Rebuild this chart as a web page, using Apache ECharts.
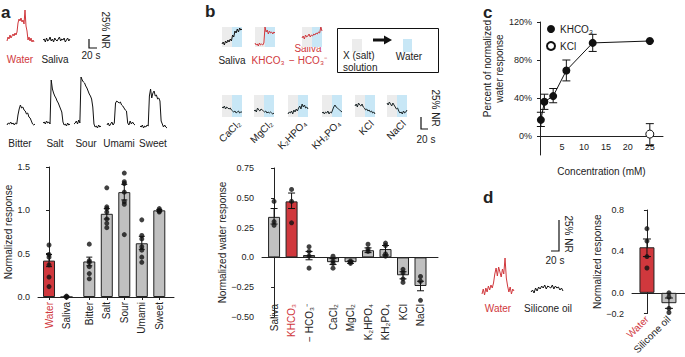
<!DOCTYPE html>
<html>
<head>
<meta charset="utf-8">
<script src="https://cdn.jsdelivr.net/npm/echarts@6/dist/echarts.min.js"></script>
<style>
html,body{margin:0;padding:0;background:#fff}
#main{width:685px;height:357px}
</style>
</head>
<body>
<div id="main"></div>
<script>
// ---- panel a, example traces (height above the trace floor) ----
var aWaterTrace  = [4, 8, 6, 10, 7, 9, 11, 9, 12, 10, 13, 22, 26, 24, 27, 23, 25, 21, 35, 19, 14, 5, 8, 4, 7, 3, 5, 3];
var aSalivaTrace = [5, 6, 3, 7, 4, 5, 8, 4, 6, 3, 7, 5, 4, 6, 8, 4, 6, 5, 7, 3, 5, 7, 4, 6];
var aBitterTrace = [4, 6, 5, 7, 5, 6, 4, 6, 5, 14, 20, 24, 21, 22, 19, 18, 15, 16, 12, 11, 8, 5, 4, 5];
var aSaltTrace   = [6, 7, 5, 8, 6, 7, 5, 49, 40, 36, 33, 31, 28, 26, 23, 20, 17, 7, 4, 5, 3, 6, 4, 5];
var aSourTrace   = [5, 6, 8, 5, 9, 6, 52, 49, 47, 46, 43, 41, 38, 35, 33, 30, 22, 5, 2, 3, 1, 4, 2, 3];
var aUmamiTrace  = [4, 6, 3, 5, 7, 4, 6, 26, 28, 27, 26, 27, 24, 23, 21, 19, 18, 6, 4, 8, 5, 7, 5, 4];
var aSweetTrace  = [3, 2, 4, 1, 3, 2, 4, 3, 33, 40, 31, 36, 38, 33, 34, 30, 31, 28, 8, 5, 2, 4, 2, 1];

// ---- panel a, bar chart ----
var aNames = ['Water', 'Saliva', 'Bitter', 'Salt', 'Sour', 'Umami', 'Sweet'];
var aMean  = [0.42, 0.0, 0.41, 0.96, 1.21, 0.62, 1.0];
var aLo    = [0.35, 0.0, 0.36, 0.90, 1.12, 0.55, 0.99];
var aHi    = [0.49, 0.01, 0.46, 1.02, 1.30, 0.70, 1.01];
var aDots  = [
  [0.60, 0.49, 0.46, 0.37, 0.23, 0.12],
  [0.01, 0.0, 0.0],
  [0.61, 0.42, 0.40, 0.35, 0.27, 0.21],
  [1.26, 1.04, 1.02, 0.98, 0.90, 0.85, 0.80],
  [1.43, 1.33, 1.31, 1.21, 1.10, 1.07, 0.72],
  [0.89, 0.71, 0.67, 0.58, 0.54, 0.46, 0.40],
  [1.02, 1.0, 0.99, 0.98]
];

// ---- panel b, traces (salt solution then water) ----
var bSalivaTrace   = [3, 5, 2, 6, 4, 7, 5, 8, 6, 12, 10, 16, 14, 18, 15, 19, 17, 18];
var bKhco3Trace    = [4, 2, 3, 1, 4, 2, 3, 2, 4, 20, 15, 17, 13, 16, 14, 15, 13, 15, 14];
var bSalMinusTrace = [9, 11, 8, 12, 10, 11, 13, 10, 12, 11, 13, 12, 14, 13, 15, 14, 20, 16];
var bCaCl2Trace    = [10, 9, 11, 8, 10, 9, 8, 9, 7, 6, 5, 6, 4, 5, 6, 4, 5, 5];
var bMgCl2Trace    = [6, 7, 5, 9, 7, 6, 8, 7, 6, 5, 6, 4, 5, 4, 5, 4, 3, 4];
var bK2hpo4Trace   = [3, 5, 4, 6, 3, 7, 5, 8, 6, 9, 11, 8, 13, 10, 12, 9, 10, 8];
var bKh2po4Trace   = [4, 5, 3, 5, 4, 6, 3, 5, 4, 7, 10, 12, 10, 9, 8, 7, 6, 5];
var bKclTrace      = [11, 13, 10, 14, 12, 11, 13, 10, 9, 7, 8, 6, 7, 5, 6, 4, 5, 3];
var bNaclTrace     = [14, 12, 15, 13, 11, 14, 12, 10, 8, 9, 6, 4, 5, 3, 6, 4, 5, 7];
var bTraceNames    = ['CaCl₂', 'MgCl₂', 'K₂HPO₄', 'KH₂PO₄', 'KCl', 'NaCl'];

// ---- panel b, bar chart ----
var bNames = ['Saliva', 'KHCO₃', '− HCO₃⁻', 'CaCl₂', 'MgCl₂', 'K₂HPO₄', 'KH₂PO₄', 'KCl', 'NaCl'];
var bMean  = [0.34, 0.47, 0.02, -0.04, -0.04, 0.06, 0.07, -0.15, -0.24];
var bLo    = [0.28, 0.41, -0.02, -0.06, -0.05, 0.04, 0.02, -0.18, -0.28];
var bHi    = [0.41, 0.54, 0.05, -0.01, -0.03, 0.08, 0.10, -0.12, -0.20];
var bDots  = [
  [0.47, 0.30, 0.27],
  [0.57, 0.47, 0.29],
  [0.09, 0.05, 0.01, -0.09],
  [0.01, -0.03, -0.05, -0.09],
  [-0.03, -0.04, -0.05],
  [0.11, 0.07, 0.05],
  [0.12, 0.10, 0.03, 0.01],
  [-0.10, -0.13, -0.18, -0.21],
  [-0.16, -0.20, -0.36]
];

// ---- panel c, dose response ----
var cConc     = [0.2, 1, 3, 6, 12, 25];
var cKhco3    = [17, 36, 42, 69, 98, 100];
var cKhco3Lo  = [10, 28, 35, 58, 89, 100];
var cKhco3Hi  = [25, 44, 50, 80, 107, 100];
var cKclConc  = [25];
var cKcl      = [2];
var cKclLo    = [-10];
var cKclHi    = [13];

// ---- panel d ----
var dWaterTrace    = [4, 9, 3, 10, 6, 12, 8, 13, 10, 15, 24, 30, 22, 31, 26, 21, 29, 24, 40, 20, 12, 6, 11, 4, 9, 7];
var dSiliconeTrace = [6, 8, 5, 10, 7, 11, 9, 12, 10, 13, 9, 12, 11, 10, 13, 9, 12, 10, 11, 8, 10, 7];
var dNames = ['Water', 'Silicone oil'];
var dMean  = [0.44, -0.10];
var dLo    = [0.35, -0.15];
var dHi    = [0.52, -0.05];
var dDots  = [[0.62, 0.50, 0.35, 0.24], [0.0, -0.04, -0.15, -0.19]];

var RED = '#d0383d', GRAY = '#c0c0c0', INK = '#222';
var GRAYBG = '#ececec', BLUEBG = '#c8e7f6';
var FONT = '"Liberation Sans", Arial, sans-serif';

var grids = [], xAxes = [], yAxes = [], series = [];

function addGrid(box) {
  grids.push({left: box[0], top: box[1], width: box[2], height: box[3]});
  return grids.length - 1;
}
function addX(o) { xAxes.push(o); return xAxes.length - 1; }
function addY(o) { yAxes.push(o); return yAxes.length - 1; }

function addTrace(box, vals, color, shade) {
  var gi = addGrid(box);
  var xi = addX({gridIndex: gi, type: 'value', min: 0, max: vals.length - 1, show: false});
  var yi = addY({gridIndex: gi, type: 'value', min: 0, max: box[3], show: false});
  var s = {
    type: 'line', xAxisIndex: xi, yAxisIndex: yi, symbol: 'none', silent: true, clip: false,
    lineStyle: {color: color, width: 1},
    data: vals.map(function (v, i) { return [i, v]; })
  };
  if (shade) {
    var mid = (vals.length - 1) / 2;
    s.markArea = {silent: true, data: [
      [{xAxis: 0, itemStyle: {color: GRAYBG}}, {xAxis: mid}],
      [{xAxis: mid, itemStyle: {color: BLUEBG}}, {xAxis: vals.length - 1}]
    ]};
  }
  series.push(s);
}

function errRender(cap) {
  return function (params, api) {
    var x = api.value(0);
    var p1 = api.coord([x, api.value(1)]), p2 = api.coord([x, api.value(2)]);
    var h = cap / 2, st = {stroke: '#111', lineWidth: 1};
    return {type: 'group', children: [
      {type: 'line', shape: {x1: p1[0], y1: p1[1], x2: p2[0], y2: p2[1]}, style: st},
      {type: 'line', shape: {x1: p1[0] - h, y1: p1[1], x2: p1[0] + h, y2: p1[1]}, style: st},
      {type: 'line', shape: {x1: p2[0] - h, y1: p2[1], x2: p2[0] + h, y2: p2[1]}, style: st}
    ]};
  };
}

function labelAt(pos, names, redIdx) {
  return function (v) {
    var best = 0;
    for (var i = 1; i < pos.length; i++) {
      if (Math.abs(pos[i] - v) < Math.abs(pos[best] - v)) best = i;
    }
    return redIdx.indexOf(best) >= 0 ? '{r|' + names[best] + '}' : names[best];
  };
}

function barSeries(xi, yi, pos, mean, lo, hi, dots, redIdx, width, cap) {
  series.push({
    type: 'bar', xAxisIndex: xi, yAxisIndex: yi, barWidth: width, z: 2,
    itemStyle: {borderColor: INK, borderWidth: 1},
    data: pos.map(function (p, i) {
      return {value: [p, mean[i]], itemStyle: {color: redIdx.indexOf(i) >= 0 ? RED : GRAY}};
    })
  });
  series.push({
    type: 'custom', xAxisIndex: xi, yAxisIndex: yi, z: 3, renderItem: errRender(cap),
    encode: {x: 0, y: [1, 2]},
    data: pos.map(function (p, i) { return [p, lo[i], hi[i]]; })
  });
  var pts = [];
  dots.forEach(function (list, i) { list.forEach(function (v) { pts.push([pos[i], v]); }); });
  series.push({
    type: 'scatter', xAxisIndex: xi, yAxisIndex: yi, z: 4, symbolSize: 5,
    itemStyle: {color: '#111'}, data: pts
  });
}

var axisBase = {
  axisLine: {show: true, lineStyle: {color: INK, width: 1}},
  splitLine: {show: false}
};
function ax(o) { return Object.assign({}, axisBase, o); }
function signed(digits) {
  return function (v) {
    if (Math.abs(v) < 1e-9) return '0.0';
    return (v < 0 ? '−' : '') + Math.abs(v).toFixed(digits);
  };
}

// ---- panel a traces ----
addTrace([7, 5, 27, 40], aWaterTrace, RED);
addTrace([43, 5, 27, 40], aSalivaTrace, '#111');
addTrace([7, 75, 28, 54], aBitterTrace, '#111');
addTrace([43, 75, 27, 54], aSaltTrace, '#111');
addTrace([74, 75, 27, 54], aSourTrace, '#111');
addTrace([107, 75, 28, 54], aUmamiTrace, '#111');
addTrace([140, 75, 27, 54], aSweetTrace, '#111');

// ---- panel a bars ----
var aPos = aNames.map(function (n, i) { return i + (i >= 2 ? 0.3 : 0); });
var gA = addGrid([38, 167, 136, 130]);
var xA = addX(ax({gridIndex: gA, type: 'value', min: -0.63, max: 7.14,
  axisTick: {show: true, customValues: aPos, length: 3, lineStyle: {color: INK}},
  axisLabel: {customValues: aPos, rotate: 90, margin: 5, fontSize: 10, color: INK,
    formatter: labelAt(aPos, aNames, [0]), rich: {r: {color: RED, fontSize: 10}}}}));
var yA = addY(ax({gridIndex: gA, type: 'value', min: 0, max: 1.5, interval: 0.5,
  axisTick: {show: true, length: 3, lineStyle: {color: INK}},
  axisLabel: {fontSize: 9, color: INK, formatter: function (v) { return v.toFixed(1); }},
  name: 'Normalized response', nameLocation: 'middle', nameGap: 24,
  nameTextStyle: {fontSize: 10, color: INK}}));
barSeries(xA, yA, aPos, aMean, aLo, aHi, aDots, [0], 12, 6);

// ---- panel b traces ----
addTrace([222, 27, 20, 20], bSalivaTrace, '#111', true);
addTrace([255, 27, 20, 20], bKhco3Trace, RED, true);
addTrace([302, 27, 20, 20], bSalMinusTrace, RED, true);
var bRow2 = [bCaCl2Trace, bMgCl2Trace, bK2hpo4Trace, bKh2po4Trace, bKclTrace, bNaclTrace];
var bRow2Left = [222, 254, 288, 322, 355, 387];
bRow2.forEach(function (t, i) { addTrace([bRow2Left[i], 95, 20, 22], t, '#1c2628', true); });

// ---- panel b bars ----
var bPos = bNames.map(function (n, i) { return i + (i >= 3 ? 0.37 : 0); });
var gB = addGrid([262, 168, 176, 149]);
var xB = addX(ax({gridIndex: gB, type: 'value', min: -0.69, max: 9.37, position: 'top',
  axisLine: {show: true, onZero: true, lineStyle: {color: INK}},
  axisTick: {show: false}, axisLabel: {show: false}}));
addX({gridIndex: gB, type: 'value', min: -0.69, max: 9.37, position: 'bottom', offset: -14,
  axisLine: {show: false, onZero: false}, axisTick: {show: false}, splitLine: {show: false},
  axisLabel: {customValues: bPos, rotate: 90, margin: 1, fontSize: 10, color: INK,
    formatter: labelAt(bPos, bNames, [1]), rich: {r: {color: RED, fontSize: 10}}}});
var yB = addY(ax({gridIndex: gB, type: 'value', min: -0.5, max: 0.75, interval: 0.25,
  axisTick: {show: true, length: 3, lineStyle: {color: INK}},
  axisLabel: {fontSize: 9, color: INK, formatter: signed(2)},
  name: 'Normalized water response', nameLocation: 'middle', nameGap: 34,
  nameTextStyle: {fontSize: 10, color: INK}}));
barSeries(xB, yB, bPos, bMean, bLo, bHi, bDots, [1], 12, 7);

// ---- panel c ----
var gC = addGrid([540, 22, 123, 133]);
var xC = addX(ax({gridIndex: gC, type: 'value', min: 0, max: 28, position: 'top',
  axisLine: {show: true, onZero: true, lineStyle: {color: INK}},
  axisTick: {show: false}, axisLabel: {show: false}}));
addX({gridIndex: gC, type: 'value', min: 0, max: 28, position: 'bottom', offset: -19,
  axisLine: {show: false, onZero: false}, axisTick: {show: false}, splitLine: {show: false},
  axisLabel: {customValues: [5, 10, 15, 20, 25], fontSize: 9, color: INK, margin: 6},
  name: 'Concentration (mM)', nameLocation: 'middle', nameGap: 30,
  nameTextStyle: {fontSize: 10, color: INK}});
var yC = addY(ax({gridIndex: gC, type: 'value', min: -20, max: 120,
  axisTick: {show: true, customValues: [0, 40, 80, 120], length: 3, lineStyle: {color: INK}},
  axisLabel: {customValues: [0, 40, 80, 120], fontSize: 9, color: INK,
    formatter: function (v) { return v + '%'; }},
  name: 'Percent of normalized\nwater response', nameLocation: 'middle', nameGap: 35,
  nameTextStyle: {fontSize: 10, color: INK, lineHeight: 12, padding: [0, 0, 0, 40]}}));
series.push({
  type: 'custom', xAxisIndex: xC, yAxisIndex: yC, z: 3, renderItem: errRender(8),
  encode: {x: 0, y: [1, 2]},
  data: cConc.map(function (c, i) { return [c, cKhco3Lo[i], cKhco3Hi[i]]; })
    .concat(cKclConc.map(function (c, i) { return [c, cKclLo[i], cKclHi[i]]; }))
});
series.push({
  name: 'KHCO₃', type: 'line', xAxisIndex: xC, yAxisIndex: yC, z: 4,
  symbol: 'circle', symbolSize: 8, itemStyle: {color: '#111'},
  lineStyle: {color: '#111', width: 1},
  data: cConc.map(function (c, i) { return [c, cKhco3[i]]; })
});
series.push({
  name: 'KCl', type: 'line', xAxisIndex: xC, yAxisIndex: yC, z: 5,
  symbol: 'circle', symbolSize: 8,
  itemStyle: {color: '#fff', borderColor: '#111', borderWidth: 1},
  lineStyle: {width: 0},
  data: cKclConc.map(function (c, i) { return [c, cKcl[i]]; })
});

// ---- panel d ----
addTrace([482, 255, 32, 43], dWaterTrace, RED);
addTrace([531, 255, 32, 43], dSiliconeTrace, '#111');
var dPos = dNames.map(function (n, i) { return i; });
var gD = addGrid([632, 210, 53, 106]);
var xD = addX(ax({gridIndex: gD, type: 'value', min: -0.68, max: 1.73, position: 'top',
  axisLine: {show: true, onZero: true, lineStyle: {color: INK}},
  axisTick: {show: false}, axisLabel: {show: false}}));
addX({gridIndex: gD, type: 'value', min: -0.68, max: 1.73, position: 'bottom',
  axisLine: {show: false, onZero: false}, axisTick: {show: false}, splitLine: {show: false},
  axisLabel: {customValues: dPos, rotate: 45, margin: 4, fontSize: 10, color: INK,
    formatter: labelAt(dPos, dNames, [0]), rich: {r: {color: RED, fontSize: 10}}}});
var yD = addY(ax({gridIndex: gD, type: 'value', min: -0.2, max: 0.8,
  axisTick: {show: true, customValues: [-0.2, 0, 0.4, 0.8], length: 3, lineStyle: {color: INK}},
  axisLabel: {customValues: [-0.2, 0, 0.4, 0.8], fontSize: 9, color: INK, formatter: signed(1)},
  name: 'Normalized response', nameLocation: 'middle', nameGap: 26,
  nameTextStyle: {fontSize: 10, color: INK}}));
barSeries(xD, yD, dPos, dMean, dLo, dHi, dDots, [0], 15, 8);

// ---- annotations ----
function txt(x, y, s, o) {
  o = o || {};
  return {type: 'text', x: x, y: y, rotation: o.rot || 0, silent: true,
    style: {text: s, fill: o.color || INK, font: (o.font || '10px') + ' ' + FONT,
      textAlign: o.align || 'center', textVerticalAlign: o.va || 'middle'}};
}
function bar(points) {
  return {type: 'polyline', silent: true, shape: {points: points},
    style: {stroke: '#111', lineWidth: 1.2, fill: null}};
}
var graphics = [
  txt(1, 4, 'a', {font: 'bold 17px', align: 'left', va: 'top'}),
  txt(205, 3, 'b', {font: 'bold 17px', align: 'left', va: 'top'}),
  txt(483, 4, 'c', {font: 'bold 17px', align: 'left', va: 'top'}),
  txt(483, 189, 'd', {font: 'bold 17px', align: 'left', va: 'top'}),
  // panel a
  txt(20, 59, 'Water', {color: RED}),
  txt(55, 59, 'Saliva'),
  txt(20, 143, 'Bitter'), txt(55, 143, 'Salt'), txt(86, 143, 'Sour'),
  txt(119, 143, 'Umami'), txt(153, 143, 'Sweet'),
  bar([[89, 39], [89, 48], [97, 48]]),
  txt(91, 55, '20 s'),
  txt(105, 30, '25% NR', {rot: -Math.PI / 2}),
  // panel b
  txt(232, 60, 'Saliva'),
  txt(268, 60, 'KHCO₃', {color: RED}),
  txt(308, 48, 'Saliva', {color: RED}),
  txt(308, 60, '− HCO₃⁻', {color: RED}),
  {type: 'rect', silent: true, shape: {x: 337.5, y: 28.5, width: 101, height: 44},
    style: {fill: null, stroke: '#111', lineWidth: 1}},
  {type: 'rect', silent: true, shape: {x: 352, y: 39, width: 10, height: 13}, style: {fill: GRAYBG}},
  {type: 'rect', silent: true, shape: {x: 403, y: 39, width: 9, height: 13}, style: {fill: BLUEBG}},
  {type: 'rect', silent: true, shape: {x: 373, y: 38.5, width: 12, height: 3}, style: {fill: '#111'}},
  {type: 'polygon', silent: true, shape: {points: [[384, 35.5], [392, 40], [384, 44.5]]}, style: {fill: '#111'}},
  txt(343, 55, 'X (salt)', {align: 'left'}),
  txt(343, 67, 'solution', {align: 'left'}),
  txt(409, 56, 'Water'),
  bar([[421, 117], [421, 129], [428, 129]]),
  txt(426, 139, '20 s'),
  txt(435, 108, '25% NR', {rot: -Math.PI / 2}),
  // panel d
  txt(498, 308, 'Water', {color: RED}),
  txt(548, 308, 'Silicone oil'),
  bar([[551, 251], [559, 251], [559, 220]]),
  txt(555, 260, '20 s'),
  txt(568, 234, '25% NR', {rot: -Math.PI / 2})
];
bTraceNames.forEach(function (n, i) {
  graphics.push(txt(bRow2Left[i] + 17, 122, n, {rot: Math.PI / 4, align: 'right'}));
});

var chart = echarts.init(document.getElementById('main'), null, {renderer: 'svg'});
chart.setOption({
  animation: false,
  backgroundColor: '#fff',
  textStyle: {fontFamily: FONT},
  grid: grids,
  xAxis: xAxes,
  yAxis: yAxes,
  legend: {
    data: ['KHCO₃', 'KCl'], orient: 'vertical', left: 541, top: 19,
    icon: 'circle', itemWidth: 8, itemHeight: 8, itemGap: 7, selectedMode: false,
    textStyle: {fontSize: 10, color: INK}
  },
  series: series,
  graphic: graphics
});
</script>
</body>
</html>
